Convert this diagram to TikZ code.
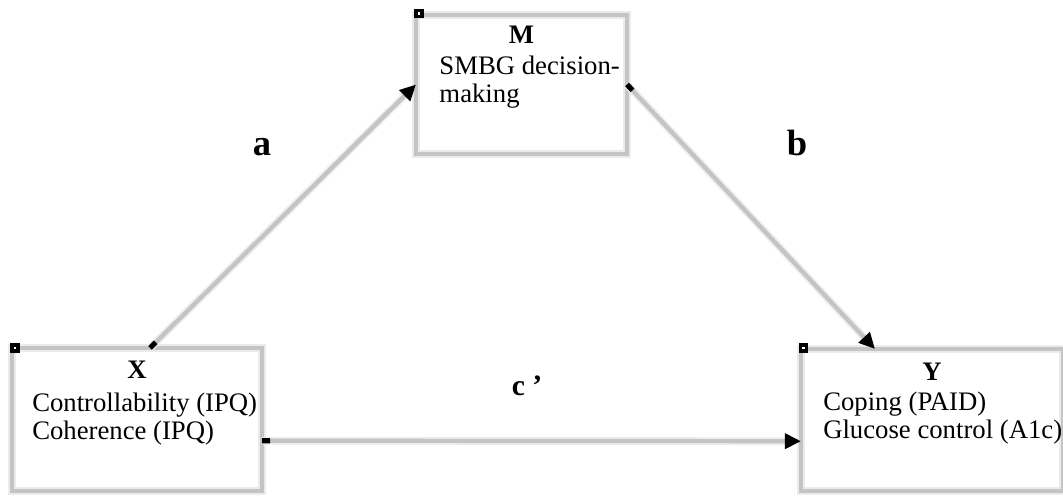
\documentclass[tikz,border=0pt]{standalone}
\usepackage{fontspec}
\setmainfont{Liberation Serif}
\usetikzlibrary{arrows.meta}

\begin{document}
\begin{tikzpicture}[x=0.025cm,y=-0.025cm,
    box/.style={draw=black!23,line width=3pt,inner sep=0pt,outer sep=0pt,
      preaction={draw=black!8,line width=5.5pt}},
    handle/.style={draw=black,fill=white,line width=2.5pt,minimum size=0.15cm,inner sep=0pt},
    boxtitle/.style={font=\fontsize{19}{20}\selectfont\bfseries,anchor=base,inner sep=0pt},
    boxbody/.style={font=\fontsize{19}{20}\selectfont,align=left,anchor=base west,inner sep=0pt},
    effect/.style={font=\fontsize{26}{28}\selectfont\bfseries,anchor=base,inner sep=0pt},
    link/.style={draw=black!23,line width=3pt,
      preaction={draw=black!7,line width=5.5pt,arrows=-,shorten >=0.3cm},
      arrows={Rectangle[color=black,length=0.2cm,width=0.07cm]-Triangle[color=black,length=0.4cm,width=0.37cm]}}]
          \useasboundingbox (0,0) rectangle (1063,497);
          % the three variables
          \node[box,minimum width=5.275cm,minimum height=3.475cm] (M) at (521.5,84.5) {};
          \node[box,minimum width=6.25cm,minimum height=3.575cm] (X) at (137,419.5) {};
          \node[box,minimum width=6.55cm,minimum height=3.55cm] (Y) at (932,420) {};
          \node[handle] (hM) at ([xshift=0.08cm,yshift=0.04cm]M.north west) {};
          \node[handle] (hX) at ([xshift=0.08cm]X.north west) {};
          \node[handle] (hY) at ([xshift=0.06cm,yshift=0.02cm]Y.north west) {};
          \node[boxtitle] (tM) at ([yshift=-0.72cm]M.north) {M};
          \node[boxbody] (bM) at ([shift={(0.58cm,-2.18cm)}]M.north west) {SMBG decision-\\making};
          \node[boxtitle] (tX) at ([yshift=-0.76cm]X.north) {X};
          \node[boxbody] (bX) at ([shift={(0.5cm,-2.28cm)}]X.north west) {Controllability (IPQ)\\Coherence (IPQ)};
          \node[boxtitle] (tY) at ([yshift=-0.78cm]Y.north) {Y};
          \node[boxbody] (bY) at ([shift={(0.55cm,-2.23cm)}]Y.north west) {Coping (PAID)\\Glucose control (A1c)};
          % paths
          \draw[link] ([xshift=0.325cm]X.north) -- (M.west);
          \draw[link] (M.east) -- ([xshift=-1.425cm]Y.north);
          \draw[link] ([yshift=-0.53cm]X.east) -- ([yshift=-0.53cm]Y.west);
          \node[effect] (la) at (262,156) {a};
          \node[effect] (lb) at (797,156) {b};
          \node[effect,font=\fontsize{21}{22}\selectfont\bfseries] (lc) at (527,395) {c ’};
        \end{tikzpicture}
\end{document}
